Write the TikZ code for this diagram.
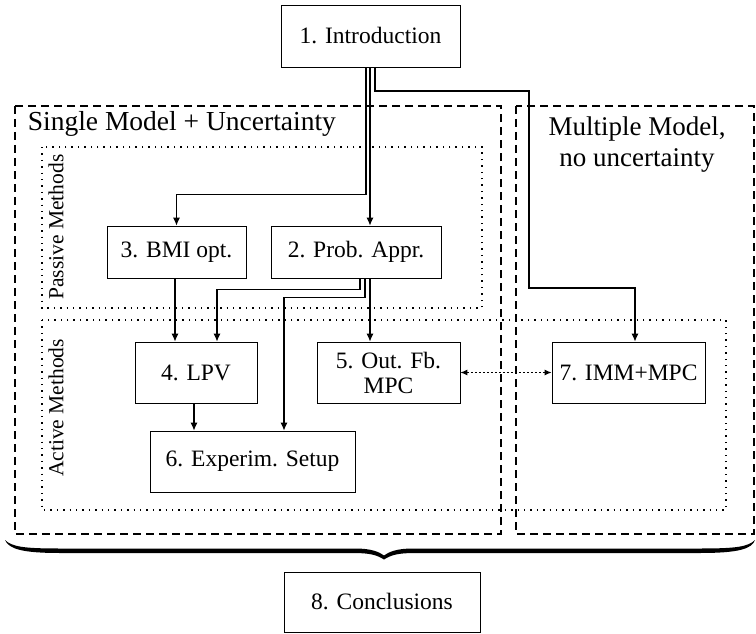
\documentclass[tikz,border=0pt]{standalone}
\usepackage{fontspec}
\setmainfont{Liberation Serif}
\usetikzlibrary{arrows.meta}

\begin{document}
\begin{tikzpicture}[x=1pt,y=-1pt,line width=1.1pt,
        box/.style={draw,line width=0.8pt,align=center,inner sep=0pt,
            minimum height=61pt,font=\fontsize{23.5}{25}\selectfont},
        arr/.style={-{Latex[length=8pt,width=7pt]}},
        region/.style={dash pattern=on 8pt off 5pt,line width=1.1pt},
        group/.style={dash pattern=on 1.4pt off 5pt,line width=1.2pt},
        grouplabel/.style={font=\fontsize{21.5}{24}\selectfont,rotate=90}]
    \useasboundingbox (0,0) rectangle (756,634);
    \draw[region] (15,106) rectangle (501,534);
    \draw[region] (516,106) rectangle (754,534);
    \draw[group] (42,147) rectangle (482,308);
    \draw[group] (42,320) rectangle (726,510);
    \node[anchor=west,font=\fontsize{27.5}{30}\selectfont] (single) at (24,124) {Single Model + Uncertainty};
    \node[align=center,font=\fontsize{27}{31}\selectfont] (multi) at (637,145) {Multiple Model,\\no uncertainty};
    \node[grouplabel] (passive) at (56,227) {Passive Methods};
    \node[grouplabel] (active) at (56,408) {Active Methods};

    \node[box,minimum width=179pt,minimum height=62pt] (intro) at (370.5,36) {1. Introduction};
    \node[box,minimum width=139pt,minimum height=52pt] (bmi) at (176.5,252) {3. BMI opt.};
    \node[box,minimum width=170pt,minimum height=52pt] (prob) at (356,252) {2. Prob. Appr.};
    \node[box,minimum width=122pt] (lpv) at (196,372.5) {4. LPV};
    \node[box,minimum width=143pt] (outfb) at (388.5,372.5) {5. Out. Fb.\\MPC};
    \node[box,minimum width=153pt] (imm) at (628.5,372.5) {7. IMM+MPC};
    \node[box,minimum width=205pt] (exper) at (252.5,461.5) {6. Experim. Setup};
    \node[box,minimum width=196pt,minimum height=60pt] (concl) at (382,602) {8. Conclusions};

    \coordinate (c1) at (529,91);
    \coordinate (c2) at (635,288);
    \draw[arr] ([xshift=-4.5pt]intro.south) |- ([yshift=31pt]bmi.north) -- (bmi.north);
    \draw[arr] ([xshift=-0.5pt]intro.south) -- ([xshift=14pt]prob.north);
    \draw[arr] ([xshift=4.5pt]intro.south) |- (c1) |- (c2) -- ([xshift=6.5pt]imm.north);
    \draw[arr] ([xshift=4pt]prob.south) |- ([xshift=21pt,yshift=52pt]lpv.north) -- ([xshift=21pt]lpv.north);
    \draw[arr] ([xshift=9pt]prob.south) |- ([xshift=31.5pt,yshift=133pt]exper.north) -- ([xshift=31.5pt]exper.north);
    \draw[arr] ([xshift=14pt]prob.south) -- ([xshift=-18.5pt]outfb.north);
    \draw[arr] ([xshift=-1.5pt]bmi.south) -- ([xshift=-21pt]lpv.north);
    \draw[arr] ([xshift=-2pt]lpv.south) -- ([xshift=-58.5pt]exper.north);
    \draw[{Latex[length=7pt,width=6pt]}-{Latex[length=7pt,width=6pt]},dash pattern=on 2pt off 2pt] (outfb.east) -- (imm.west);
    \fill (5,540) .. controls (12,547) and (25,548.5) .. (60,548.5) -- (355,548.5)
        .. controls (372,548.5) and (379,552) .. (384,555.5)
        .. controls (389,552) and (396,548.5) .. (413,548.5) -- (700,548.5)
        .. controls (735,548.5) and (748,547) .. (755,540)
        .. controls (752,549) and (738,553) .. (700,553) -- (415,553)
        .. controls (398,553) and (391,555) .. (384,559.5)
        .. controls (377,555) and (370,553) .. (353,553) -- (60,553)
        .. controls (22,553) and (9,549) .. (5,540) -- cycle;
\end{tikzpicture}
\end{document}
